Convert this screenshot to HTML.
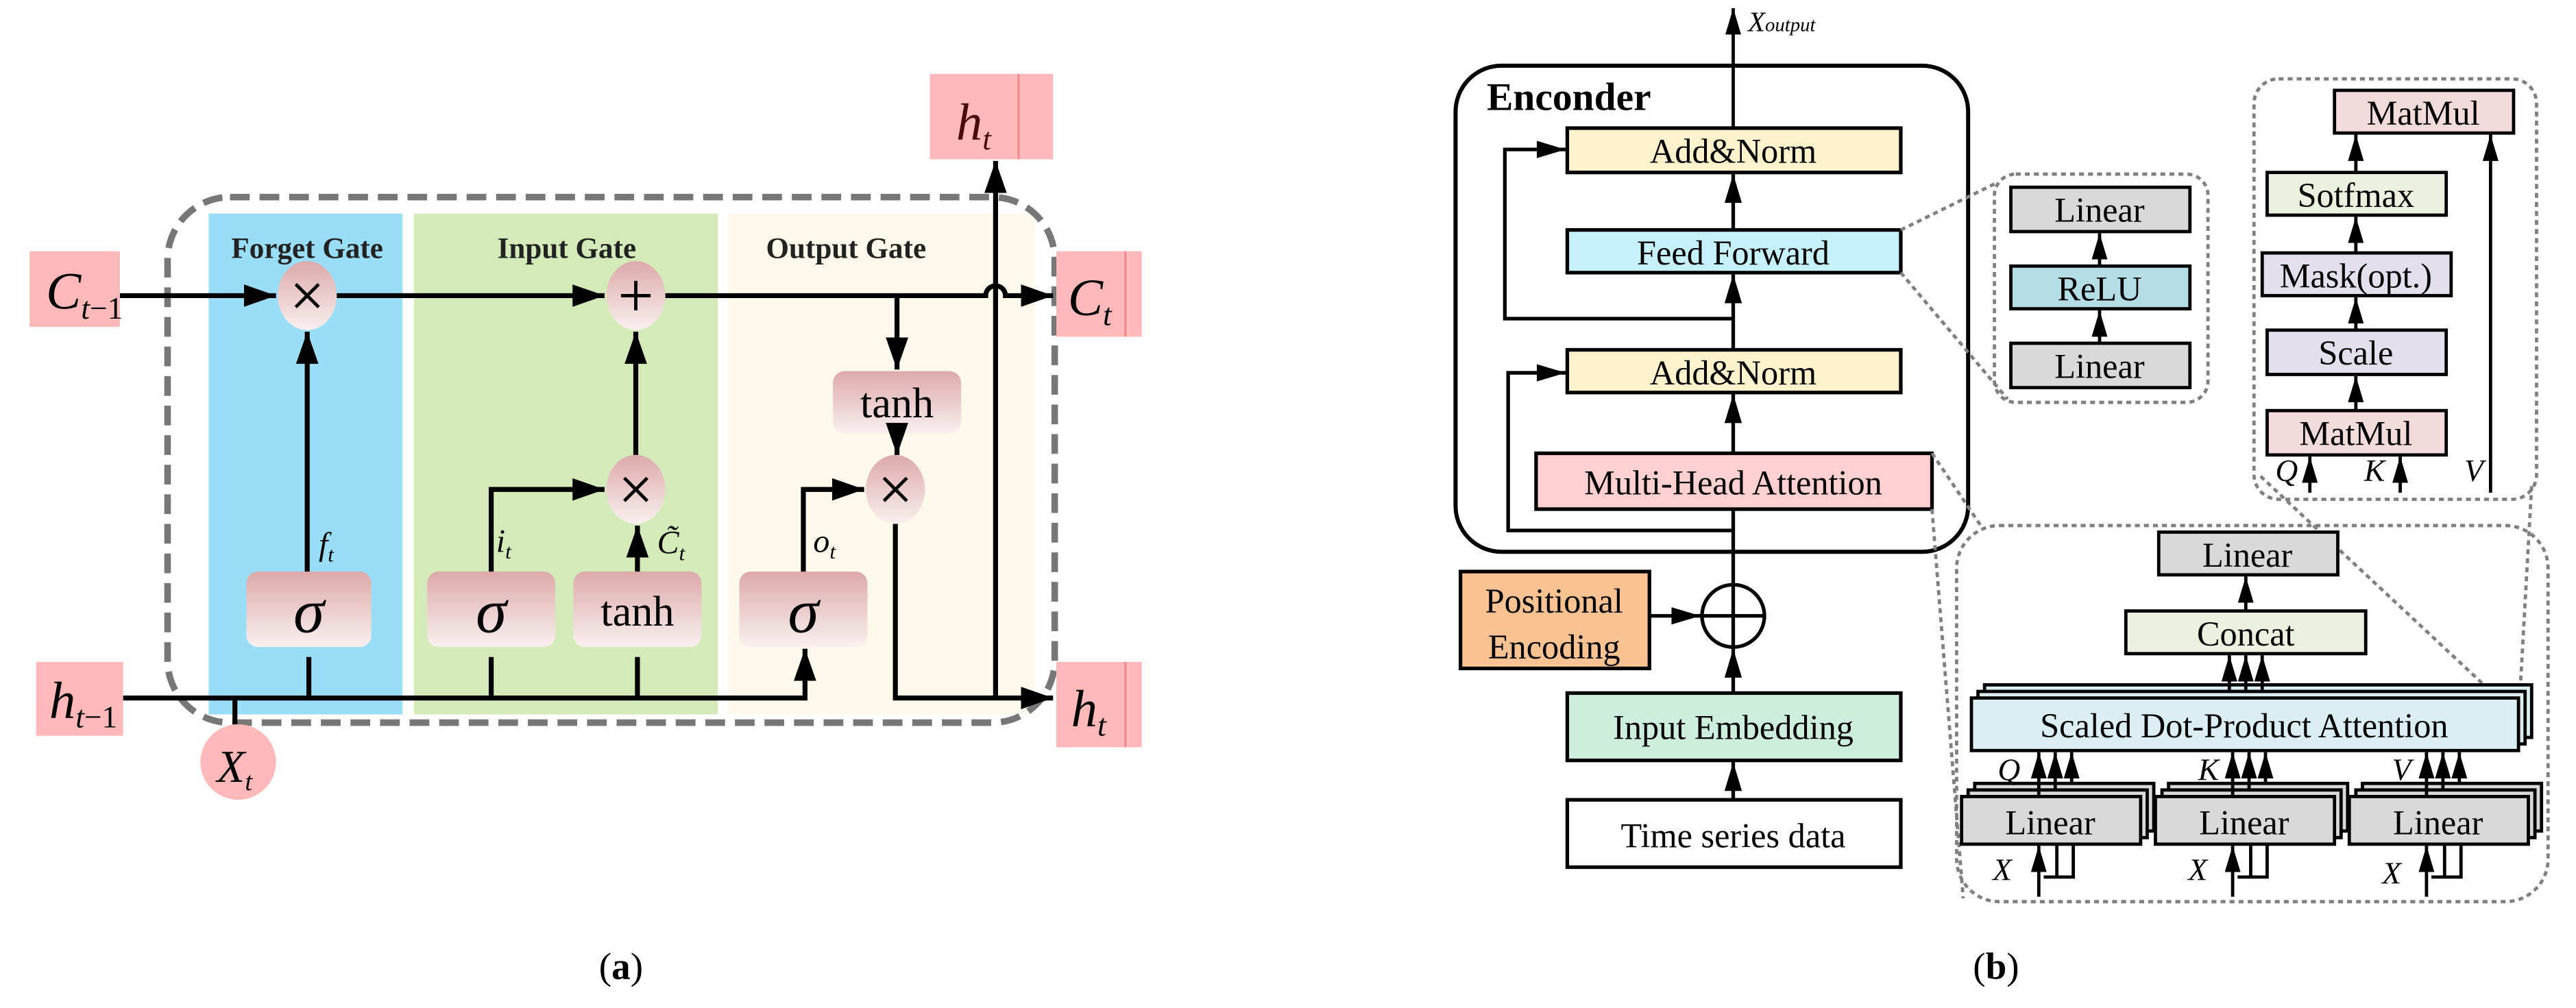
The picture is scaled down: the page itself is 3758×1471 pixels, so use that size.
<!DOCTYPE html>
<html><head><meta charset="utf-8"><style>
html,body{margin:0;padding:0;background:#fff;}
svg{display:block;font-family:"Liberation Serif","DejaVu Serif",serif;}
</style></head><body>
<svg width="3758" height="1471" viewBox="0 0 1568 613.75" xmlns="http://www.w3.org/2000/svg" font-family="'Liberation Serif', serif">
<defs>
<linearGradient id="pg" x1="0" y1="0" x2="0" y2="1">
<stop offset="0" stop-color="#DDA9A9"/><stop offset="1" stop-color="#F9F0F0"/></linearGradient>
<marker id="ah" viewBox="0 0 10 10" refX="10" refY="5" markerWidth="6.5" markerHeight="6.5" orient="auto" markerUnits="strokeWidth"><path d="M0,1.5 L10,5 L0,8.5 z" fill="#000"/></marker>
<marker id="ab" viewBox="0 0 10 10" refX="10" refY="5" markerWidth="8" markerHeight="8" orient="auto" markerUnits="strokeWidth"><path d="M0,2 L10,5 L0,8 z" fill="#000"/></marker>
</defs>

<!-- ================= (a) LSTM ================= -->
<rect x="127" y="130" width="118" height="305" fill="#99DEF6"/>
<rect x="252" y="130" width="185" height="305" fill="#D4EBB9"/>
<rect x="443" y="130" width="187" height="305" fill="#FFF9EC"/>
<rect x="102" y="120" width="540" height="320" rx="38" fill="none" stroke="#777" stroke-width="4" stroke-dasharray="12,6"/>
<g font-weight="bold" font-size="18" fill="#222">
<text x="187" y="157" text-anchor="middle">Forget Gate</text>
<text x="345" y="157" text-anchor="middle">Input Gate</text>
<text x="515" y="157" text-anchor="middle">Output Gate</text>
</g>
<g fill="#FFB9B9">
<rect x="18" y="153" width="55" height="46"/>
<rect x="22" y="403" width="53" height="45"/>
<rect x="566" y="45" width="75" height="52"/>
<rect x="643" y="153" width="52" height="52"/>
<rect x="643" y="403" width="52" height="52"/>
</g>
<g stroke="#F08080" stroke-width="1"><line x1="620" y1="45" x2="620" y2="97"/><line x1="685" y1="153" x2="685" y2="205"/><line x1="685" y1="403" x2="685" y2="455"/></g>
<g font-style="italic" font-size="32">
<text x="28" y="188">C<tspan font-size="19" dy="6">t</tspan><tspan font-style="normal" font-size="19">−1</tspan></text>
<text x="30" y="437">h<tspan font-size="19" dy="6">t</tspan><tspan font-style="normal" font-size="19">−1</tspan></text>
<text x="582" y="85" fill="#4a0a0a">h<tspan font-size="19" dy="6">t</tspan></text>
<text x="650" y="192">C<tspan font-size="19" dy="6">t</tspan></text>
<text x="652" y="442">h<tspan font-size="19" dy="6">t</tspan></text>
</g>
<circle cx="145" cy="464" r="23" fill="#FFB9B9"/>
<text x="132" y="476" font-style="italic" font-size="28">X<tspan font-size="16" dy="5">t</tspan></text>

<g fill="url(#pg)">
<rect x="150" y="348" width="76" height="46" rx="7"/>
<rect x="260" y="348" width="78" height="46" rx="7"/>
<rect x="349" y="348" width="78" height="46" rx="7"/>
<rect x="450" y="348" width="78" height="46" rx="7"/>
<rect x="507" y="226" width="78" height="38" rx="7"/>
<ellipse cx="187" cy="180" rx="18" ry="21"/>
<ellipse cx="387" cy="180" rx="18" ry="21"/>
<ellipse cx="387" cy="298" rx="18" ry="21"/>
<ellipse cx="545" cy="298" rx="18" ry="21"/>
</g>
<g font-size="38" font-style="italic" text-anchor="middle">
<text x="188" y="385">σ</text><text x="299" y="385">σ</text><text x="489" y="385">σ</text>
</g>
<g font-size="26" text-anchor="middle"><text x="388" y="381">tanh</text><text x="546" y="254">tanh</text></g>
<g stroke="#000" stroke-width="2">
<path d="M180,173 L194,187 M194,173 L180,187"/>
<path d="M387,171 L387,189 M378,180 L396,180"/>
<path d="M380,291 L394,305 M394,291 L380,305"/>
<path d="M538,291 L552,305 M552,291 L538,305"/>
</g>
<g font-style="italic" font-size="20">
<text x="194" y="338">f<tspan font-size="13" dy="4">t</tspan></text>
<text x="302" y="336">i<tspan font-size="13" dy="4">t</tspan></text>
<text x="400" y="337">C̃<tspan font-size="13" dy="4">t</tspan></text>
<text x="495" y="336">o<tspan font-size="13" dy="4">t</tspan></text>
</g>
<g stroke="#000" stroke-width="3" fill="none">
<line x1="73" y1="180" x2="168" y2="180" marker-end="url(#ah)"/>
<line x1="205" y1="180" x2="368" y2="180" marker-end="url(#ah)"/>
<path d="M405,180 L600,180 A6,6 0 0 1 612,180 L641,180" marker-end="url(#ah)"/>
<line x1="187" y1="348" x2="187" y2="202" marker-end="url(#ah)"/>
<line x1="387" y1="277" x2="387" y2="202" marker-end="url(#ah)"/>
<line x1="388" y1="348" x2="388" y2="320" marker-end="url(#ah)"/>
<path d="M299,348 L299,298 L368,298" marker-end="url(#ah)"/>
<path d="M489,348 L489,298 L526,298" marker-end="url(#ah)"/>
<line x1="546" y1="180" x2="546" y2="225" marker-end="url(#ah)"/>
<line x1="546" y1="264" x2="546" y2="277" marker-end="url(#ah)"/>
<path d="M75,425 L490,425 L490,395" marker-end="url(#ah)"/>
<line x1="188" y1="425" x2="188" y2="400"/><line x1="299" y1="425" x2="299" y2="400"/><line x1="388" y1="425" x2="388" y2="400"/>
<line x1="143" y1="425" x2="143" y2="441"/>
<path d="M545,319 L545,425 L641,425" marker-end="url(#ah)"/>
<line x1="606" y1="425" x2="606" y2="98" marker-end="url(#ah)"/>
</g>
<text x="378" y="596" font-size="23" text-anchor="middle">(<tspan font-weight="bold">a</tspan>)</text>

<!-- ================= (b) Transformer ================= -->
<rect x="886" y="40" width="312" height="296" rx="28" fill="none" stroke="#000" stroke-width="2.5"/>
<text x="905" y="67" font-size="24" font-weight="bold">Enconder</text>
<line x1="1055" y1="78" x2="1055" y2="5" stroke="#000" stroke-width="2" marker-end="url(#ab)"/>
<text x="1064" y="19" font-size="17" font-style="italic">X<tspan font-size="12">output</tspan></text>

<g stroke="#000" stroke-width="2.2">
<rect x="954" y="78" width="203" height="27" fill="#FFF2CC"/>
<rect x="954" y="140" width="203" height="26" fill="#C5F0FC"/>
<rect x="954" y="213" width="203" height="26" fill="#FFF2CC"/>
<rect x="935" y="276" width="241" height="34" fill="#FFD0D0"/>
<rect x="889" y="348" width="115" height="59" fill="#F9C293"/>
<rect x="954" y="422" width="203" height="41" fill="#CDEEDD"/>
<rect x="954" y="487" width="203" height="41" fill="#fff"/>
</g>
<g font-size="21" text-anchor="middle">
<text x="1055" y="99">Add&amp;Norm</text>
<text x="1055" y="161">Feed Forward</text>
<text x="1055" y="234">Add&amp;Norm</text>
<text x="1055" y="301">Multi-Head Attention</text>
<text x="946" y="373">Positional</text>
<text x="946" y="401">Encoding</text>
<text x="1055" y="450">Input Embedding</text>
<text x="1055" y="516">Time series data</text>
</g>
<g stroke="#000" stroke-width="2.2" fill="none">
<line x1="1055" y1="487" x2="1055" y2="464" marker-end="url(#ab)"/>
<line x1="1055" y1="422" x2="1055" y2="395" marker-end="url(#ab)"/>
<circle cx="1055" cy="375" r="19"/>
<line x1="1036" y1="375" x2="1074" y2="375"/>
<line x1="1055" y1="394" x2="1055" y2="310"/>
<line x1="1004" y1="375" x2="1035" y2="375" marker-end="url(#ab)"/>
<line x1="1055" y1="276" x2="1055" y2="240" marker-end="url(#ab)"/>
<line x1="1055" y1="213" x2="1055" y2="167" marker-end="url(#ab)"/>
<line x1="1055" y1="140" x2="1055" y2="106" marker-end="url(#ab)"/>
<path d="M1055,323 L918,323 L918,227 L953,227" marker-end="url(#ab)"/>
<path d="M1055,194 L916,194 L916,91 L953,91" marker-end="url(#ab)"/>
</g>

<g fill="none" stroke="#808080" stroke-width="2" stroke-dasharray="3,2.5">
<rect x="1214" y="106" width="130" height="139" rx="13"/>
<rect x="1372" y="48" width="172" height="256" rx="15"/>
<rect x="1191" y="320" width="360" height="229" rx="26"/>
<line x1="1157" y1="140" x2="1214" y2="112"/>
<line x1="1157" y1="166" x2="1222" y2="243"/>
<line x1="1176" y1="276" x2="1207" y2="322"/>
<line x1="1176" y1="310" x2="1195" y2="547"/>
<line x1="1376" y1="290" x2="1528" y2="432"/>
<line x1="1541" y1="296" x2="1532" y2="456"/>
</g>
<g stroke="#000" stroke-width="2">
<rect x="1224" y="114" width="109" height="27" fill="#D9D9D9"/>
<rect x="1224" y="162" width="109" height="26" fill="#B4DDE6"/>
<rect x="1224" y="209" width="109" height="27" fill="#D9D9D9"/>
<rect x="1421" y="55" width="109" height="26" fill="#F2DCDB"/>
<rect x="1380" y="105" width="109" height="26" fill="#EBF1DE"/>
<rect x="1377" y="154" width="115" height="26" fill="#E4DFEC"/>
<rect x="1380" y="201" width="109" height="27" fill="#E4DFEC"/>
<rect x="1380" y="250" width="109" height="27" fill="#F2DCDB"/>
<rect x="1314" y="324" width="109" height="26" fill="#D9D9D9"/>
<rect x="1294" y="372" width="146" height="26" fill="#EBF1DE"/>
<rect x="1208" y="417" width="333" height="32" fill="#DAEEF3"/>
<rect x="1204" y="421" width="333" height="32" fill="#DAEEF3"/>
<rect x="1200" y="425" width="333" height="32" fill="#DAEEF3"/>
<rect x="1202" y="477" width="109" height="29" fill="#D9D9D9"/><rect x="1198" y="481" width="109" height="29" fill="#D9D9D9"/><rect x="1194" y="485" width="109" height="29" fill="#D9D9D9"/>
<rect x="1320" y="477" width="109" height="29" fill="#D9D9D9"/><rect x="1316" y="481" width="109" height="29" fill="#D9D9D9"/><rect x="1312" y="485" width="109" height="29" fill="#D9D9D9"/>
<rect x="1438" y="477" width="109" height="29" fill="#D9D9D9"/><rect x="1434" y="481" width="109" height="29" fill="#D9D9D9"/><rect x="1430" y="485" width="109" height="29" fill="#D9D9D9"/>
</g>
<g font-size="21" text-anchor="middle">
<text x="1278" y="135">Linear</text><text x="1278" y="183">ReLU</text><text x="1278" y="230">Linear</text>
<text x="1475" y="76">MatMul</text><text x="1434" y="126">Sotfmax</text><text x="1434" y="175">Mask(opt.)</text>
<text x="1434" y="222">Scale</text><text x="1434" y="271">MatMul</text>
<text x="1368" y="345">Linear</text><text x="1367" y="393">Concat</text>
<text x="1366" y="449">Scaled Dot-Product Attention</text>
<text x="1248" y="508">Linear</text><text x="1366" y="508">Linear</text><text x="1484" y="508">Linear</text>
</g>
<g font-size="19" font-style="italic">
<text x="1385" y="293">Q</text><text x="1439" y="293">K</text><text x="1500" y="293">V</text>
<text x="1216" y="475">Q</text><text x="1338" y="475">K</text><text x="1456" y="475">V</text>
<text x="1213" y="536">X</text><text x="1332" y="536">X</text><text x="1450" y="538">X</text>
</g>
<g stroke="#000" stroke-width="2" fill="none">
<line x1="1278" y1="162" x2="1278" y2="142" marker-end="url(#ab)"/>
<line x1="1278" y1="209" x2="1278" y2="189" marker-end="url(#ab)"/>
<line x1="1434" y1="105" x2="1434" y2="82" marker-end="url(#ab)"/>
<line x1="1434" y1="154" x2="1434" y2="132" marker-end="url(#ab)"/>
<line x1="1434" y1="201" x2="1434" y2="181" marker-end="url(#ab)"/>
<line x1="1434" y1="250" x2="1434" y2="229" marker-end="url(#ab)"/>
<line x1="1406" y1="300" x2="1406" y2="278" marker-end="url(#ab)"/>
<line x1="1461" y1="300" x2="1461" y2="278" marker-end="url(#ab)"/>
<line x1="1516" y1="300" x2="1516" y2="82" marker-end="url(#ab)"/>
<line x1="1367" y1="372" x2="1367" y2="351" marker-end="url(#ab)"/>
<line x1="1357" y1="421" x2="1357" y2="399" marker-end="url(#ab)"/>
<line x1="1367" y1="421" x2="1367" y2="399" marker-end="url(#ab)"/>
<line x1="1377" y1="421" x2="1377" y2="399" marker-end="url(#ab)"/>
<g id="g1">
<line x1="1241" y1="485" x2="1241" y2="458" marker-end="url(#ab)"/>
<line x1="1251" y1="481" x2="1251" y2="458" marker-end="url(#ab)"/>
<line x1="1261" y1="477" x2="1261" y2="458" marker-end="url(#ab)"/>
<line x1="1241" y1="546" x2="1241" y2="515" marker-end="url(#ab)"/>
<path d="M1244,534 L1262,534 L1262,514 M1252,534 L1252,514"/>
</g>
<use href="#g1" transform="translate(118,0)"/>
<use href="#g1" transform="translate(236,0)"/>
</g>
<text x="1215" y="596" font-size="23" text-anchor="middle">(<tspan font-weight="bold">b</tspan>)</text>
</svg>
</body></html>
